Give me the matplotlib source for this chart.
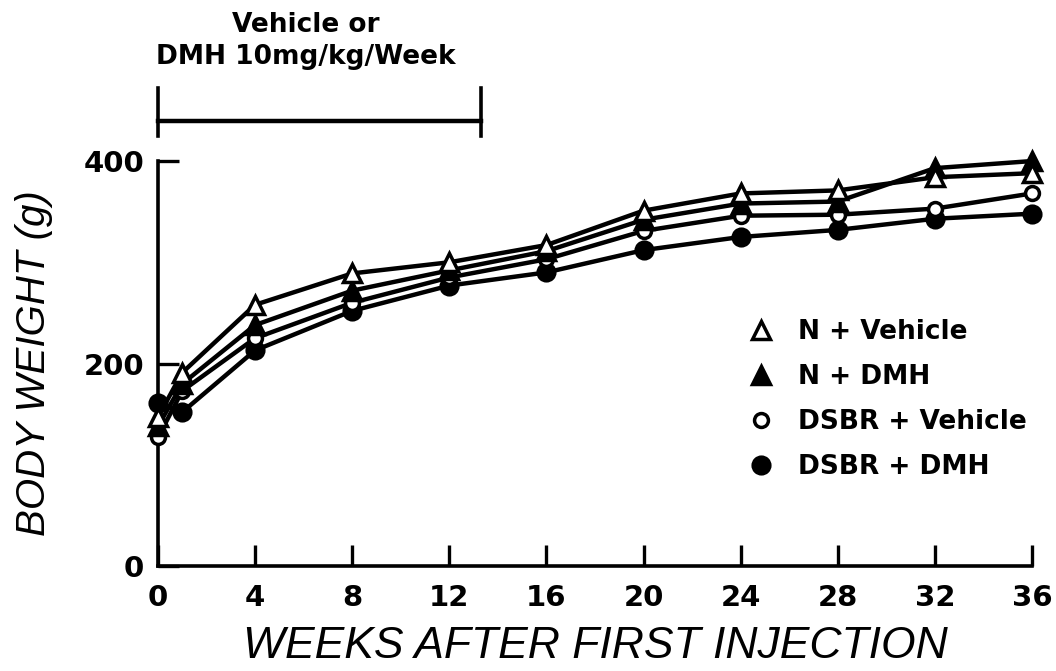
import matplotlib

matplotlib.use('Agg')
import matplotlib.pyplot as plt
from matplotlib.lines import Line2D

# weeks after first injection
weeks = [0, 1, 4, 8, 12, 16, 20, 24, 28, 32, 36]

# body weight (g)
n_vehicle = [147, 191, 258, 289, 300, 317, 351, 368, 371, 384, 388]
n_dmh = [138, 180, 238, 272, 292, 311, 342, 358, 360, 393, 400]
dsbr_vehicle = [127, 173, 225, 260, 285, 303, 331, 346, 347, 353, 368]
dsbr_dmh = [161, 152, 213, 252, 277, 290, 312, 325, 332, 343, 348]

series_names = ['N + Vehicle', 'N + DMH', 'DSBR + Vehicle', 'DSBR + DMH']
x_ticks = [0, 4, 8, 12, 16, 20, 24, 28, 32, 36]
y_ticks = [0, 200, 400]

# treatment period bar
treat_start = 0
treat_end = 13.3

fig = plt.figure(figsize=(10.56, 6.71), dpi=100)
ax = fig.add_axes([0.1496, 0.1565, 0.8277, 0.6035])

styles = [
    dict(marker='^', ms=13, mfc='white', mec='black', mew=2.5),
    dict(marker='^', ms=13, mfc='black', mec='black', mew=2.5),
    dict(marker='o', ms=10, mfc='white', mec='black', mew=2.5),
    dict(marker='o', ms=12, mfc='black', mec='black', mew=2.5),
]
data = [n_vehicle, n_dmh, dsbr_vehicle, dsbr_dmh]

# draw bottom series first so triangles sit on top
for vals, st in reversed(list(zip(data, styles))):
    ax.plot(weeks, vals, color='black', lw=3.2, clip_on=False,
            zorder=3, **st)

ax.set_xlim(0, 36)
ax.set_ylim(0, 400)
for side in ('top', 'right'):
    ax.spines[side].set_visible(False)
for side in ('left', 'bottom'):
    ax.spines[side].set_linewidth(2.6)

ax.set_xticks(x_ticks)
ax.set_yticks(y_ticks)
ax.tick_params(direction='in', length=15, width=2.4, labelsize=21, pad=13)
ax.tick_params(axis='y', pad=10)
for lab in ax.get_xticklabels() + ax.get_yticklabels():
    lab.set_fontfamily('DejaVu Sans')
    lab.set_fontweight('bold')

ax.set_xlabel('WEEKS AFTER FIRST INJECTION', fontsize=32, style='italic',
              family='Liberation Sans', labelpad=10)
ax.set_ylabel('BODY WEIGHT (g)', fontsize=29, style='italic',
              family='Liberation Sans', labelpad=22)

# treatment period annotation
ax.plot([treat_start, treat_end], [440, 440], color='black', lw=3.2,
        clip_on=False)
for xe in (treat_start, treat_end):
    ax.plot([xe, xe], [425, 472], color='black', lw=2.6, clip_on=False)
ax.text(6.1, 490, 'Vehicle or\nDMH 10mg/kg/Week', ha='center', va='bottom',
        fontsize=19, fontweight='bold', family='DejaVu Sans',
        linespacing=1.3)

handles = [Line2D([], [], color='black', ls='none', **st) for st in styles]
leg = ax.legend(handles, series_names, loc='upper left',
                bbox_to_anchor=(0.648, 0.668), frameon=False,
                handlelength=1.0, handletextpad=0.9, labelspacing=0.72,
                prop={'family': 'DejaVu Sans', 'weight': 'bold',
                      'size': 19})

fig.savefig('out.png', dpi=100)
